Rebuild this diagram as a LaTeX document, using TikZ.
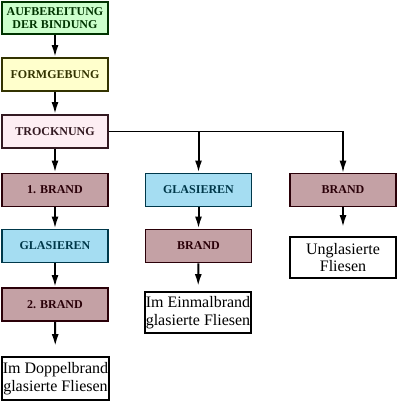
\documentclass[tikz,border=0pt]{standalone}
\usepackage{fontspec}
\setmainfont{Liberation Serif}
\usetikzlibrary{arrows.meta}
\definecolor{gfill}{HTML}{CCFFCC}\definecolor{gdraw}{HTML}{003300}
\definecolor{yfill}{HTML}{FFFFCC}\definecolor{ydraw}{HTML}{333300}
\definecolor{pfill}{HTML}{FDEEF3}\definecolor{pdraw}{HTML}{331A22}
\definecolor{bfill}{HTML}{C4A1A5}\definecolor{bdraw}{HTML}{2A0008}
\definecolor{lfill}{HTML}{A5DDF2}\definecolor{ldraw}{HTML}{00384A}
\tikzset{
  proc/.style={draw, line width=1.8pt, minimum width=106pt, minimum height=33pt, inner sep=1pt, align=center,
    font=\bfseries\fontsize{12}{13.5}\selectfont},
  gbox/.style={proc, fill=gfill, draw=gdraw, text=gdraw},
  ybox/.style={proc, fill=yfill, draw=ydraw, text=ydraw},
  pbox/.style={proc, fill=pfill, draw=pdraw, text=pdraw},
  bbox/.style={proc, fill=bfill, draw=bdraw, text=bdraw},
  lbox/.style={proc, fill=lfill, draw=ldraw, text=ldraw},
  res/.style={draw=black, fill=white, line width=1.8pt, minimum width=106pt, minimum height=41pt, inner sep=1pt, align=center,
    font=\fontsize{16}{17.5}\selectfont},
  arr/.style={line width=2pt, -{Latex[length=12pt,width=7pt]}},
  gap/.style={arr, shorten >=9pt},
}
\begin{document}
\begin{tikzpicture}[x=1pt,y=-1pt]
\useasboundingbox (0,0) rectangle (400,404);
\node[gbox, minimum height=32pt] (auf) at (55,18) {AUFBEREITUNG\\DER BINDUNG};
\node[ybox] (form) at (55,74.5) {FORMGEBUNG};
\node[pbox] (troc) at (55,131.5) {TROCKNUNG};
\node[bbox] (b1) at (55,190) {1. BRAND};
\node[lbox] (gl) at (55,246) {GLASIEREN};
\node[bbox] (b2) at (55,304.5) {2. BRAND};
\node[res, minimum height=43pt] (dop) at (55.5,378.5) {Im Doppelbrand\\glasierte Fliesen};
\node[lbox] (gm) at (198.5,190) {GLASIEREN};
\node[bbox] (bm) at (198.5,246) {BRAND};
\node[res] (ein) at (198,312.5) {Im Einmalbrand\\glasierte Fliesen};
\node[bbox] (br) at (343,190) {BRAND};
\node[res] (ung) at (343,257.5) {Unglasierte\\Fliesen};
\draw[arr] (auf) -- (form);
\draw[arr] (form) -- (troc);
\draw[arr] (troc) -- (b1);
\draw[arr] (b1) -- (gl);
\draw[arr] (gl) -- (b2);
\draw[gap, shorten >=10pt] (b2) -- (dop);
\draw[arr, line width=1.5pt] (troc.east) -| (br.north);
\draw[arr] (gm.north |- troc.east) -- (gm.north);
\draw[arr] (gm) -- (bm);
\draw[gap, shorten >=5pt] (bm) -- (ein);
\draw[gap] (br) -- (ung);
\end{tikzpicture}
\end{document}
